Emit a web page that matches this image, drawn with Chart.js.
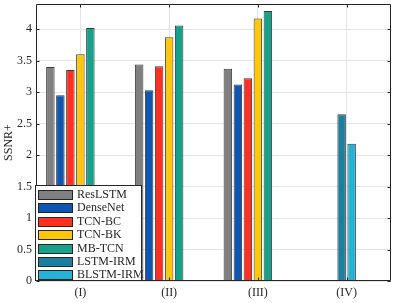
<!DOCTYPE html>
<html>
<head>
<meta charset="utf-8">
<script src="https://cdn.jsdelivr.net/npm/chart.js@4.4.1/dist/chart.umd.min.js"></script>
<style>
  html, body { margin: 0; padding: 0; background: #fff; }
  #wrap { position: relative; width: 399px; height: 303px; }
  #legend {
    position: absolute; left: 35px; top: 185px; width: 105px; height: 94px;
    border: 1px solid #262626; background: #fff; z-index: 2;
    font-family: "Liberation Serif", "DejaVu Serif", serif; font-size: 12px; color: #262626;
  }
  .row { position: absolute; left: 2px; height: 12px; line-height: 12px; white-space: nowrap; }
  .sw { position: absolute; left: 0; top: 1px; width: 33px; height: 8px; border: 1px solid #262626; }
  .lab { position: absolute; left: 39px; top: -1px; }
</style>
</head>
<body>
<div id="wrap">
  <canvas id="c" width="399" height="303"></canvas>
  <div id="legend"></div>
</div>
<script>
const categories = ['(I)', '(II)', '(III)', '(IV)'];
const seriesNames = ['ResLSTM', 'DenseNet', 'TCN-BC', 'TCN-BK', 'MB-TCN', 'LSTM-IRM', 'BLSTM-IRM'];
const seriesColors = ['#808080', '#0d56b1', '#ff3021', '#ffc70b', '#17a08a', '#1b7fa0', '#24b3d7'];
const resLSTM  = [3.40, 3.44, 3.37, null];
const denseNet = [2.95, 3.03, 3.12, null];
const tcnBC    = [3.35, 3.41, 3.22, null];
const tcnBK    = [3.60, 3.87, 4.17, null];
const mbTCN    = [4.02, 4.06, 4.29, null];
const lstmIRM  = [null, null, null, 2.65];
const blstmIRM = [null, null, null, 2.18];
const yTicks = [0, 0.5, 1, 1.5, 2, 2.5, 3, 3.5, 4];
const yMax = 4.4;

const seriesData = [resLSTM, denseNet, tcnBC, tcnBK, mbTCN, lstmIRM, blstmIRM];
const BORDER = '#3a3a3a';
// 13 half-width slots per category; -1 marks an empty slot
const slotOrder = [0, -1, 1, -1, 2, 5, 3, 6, 4, -1, -1, -1, -1];
const catPct = 65 / 88.75, barPct = 1.7;
const emptyData = categories.map(() => null);
const datasets = slotOrder.map(i => i < 0
  ? { label: '', data: emptyData, categoryPercentage: catPct, barPercentage: barPct }
  : {
      label: seriesNames[i], data: seriesData[i],
      backgroundColor: seriesColors[i], borderColor: BORDER, borderWidth: 1,
      borderSkipped: 'bottom', categoryPercentage: catPct, barPercentage: barPct
    });

const font = { family: '"Liberation Serif", "DejaVu Serif", serif', size: 12 };
const TXT = '#262626';

const boxPlugin = {
  id: 'box',
  afterDraw(chart) {
    const ctx = chart.ctx, a = chart.chartArea;
    const ys = chart.scales.y, xs = chart.scales.x;
    ctx.save();
    ctx.strokeStyle = TXT; ctx.lineWidth = 1;
    const L = Math.round(a.left) + 0.5, R = Math.round(a.right) - 0.5;
    const T = Math.round(a.top) + 0.5, B = Math.round(a.bottom) - 0.5;
    ctx.beginPath();
    ctx.moveTo(L, B); ctx.lineTo(L, T); ctx.lineTo(R, T); ctx.lineTo(R, B); ctx.lineTo(L, B);
    const tl = 3;
    yTicks.forEach(v => {
      const y = Math.round(ys.getPixelForValue(v)) + 0.5;
      ctx.moveTo(L, y); ctx.lineTo(L + tl, y);
      ctx.moveTo(R, y); ctx.lineTo(R - tl, y);
    });
    categories.forEach((c, i) => {
      const x = Math.round(xs.getPixelForValue(i)) + 0.5;
      ctx.moveTo(x, B); ctx.lineTo(x, B - tl);
      ctx.moveTo(x, T); ctx.lineTo(x, T + tl);
    });
    ctx.stroke();
    ctx.restore();
  }
};

new Chart(document.getElementById('c'), {
  type: 'bar',
  data: { labels: categories, datasets: datasets },
  plugins: [boxPlugin],
  options: {
    responsive: false, animation: false,
    layout: { padding: { top: 4, right: 8, left: 0, bottom: 0 } },
    plugins: { legend: { display: false }, tooltip: { enabled: false } },
    scales: {
      x: {
        type: 'category', offset: true,
        grid: { offset: false, color: '#e4e4e4', drawTicks: false, lineWidth: 1 },
        border: { display: false },
        ticks: { font: font, color: TXT, padding: 5, maxRotation: 0 },
        afterFit(s) { s.height = 22; s.paddingLeft = 0; s.paddingRight = 0; }
      },
      y: {
        min: 0, max: yMax,
        grid: { color: '#e4e4e4', drawTicks: false },
        border: { display: false },
        afterBuildTicks(s) { s.ticks = yTicks.map(v => ({ value: v })); },
        ticks: { font: font, color: TXT, padding: 4, callback: v => String(v) },
        title: { display: true, text: 'SSNR+', font: { family: font.family, size: 12 }, color: TXT, padding: { top: 2, bottom: 0 } },
        afterFit(s) { s.width = 36; s.paddingTop = 0; s.paddingBottom = 0; }
      }
    }
  }
});

// HTML legend built from series names/colours
const leg = document.getElementById('legend');
seriesNames.forEach((n, i) => {
  const r = document.createElement('div');
  r.className = 'row';
  r.style.top = (3 + i * 13.4) + 'px';
  r.innerHTML = '<div class="sw" style="background:' + seriesColors[i] + '"></div><div class="lab">' + n + '</div>';
  leg.appendChild(r);
});
</script>
</body>
</html>
